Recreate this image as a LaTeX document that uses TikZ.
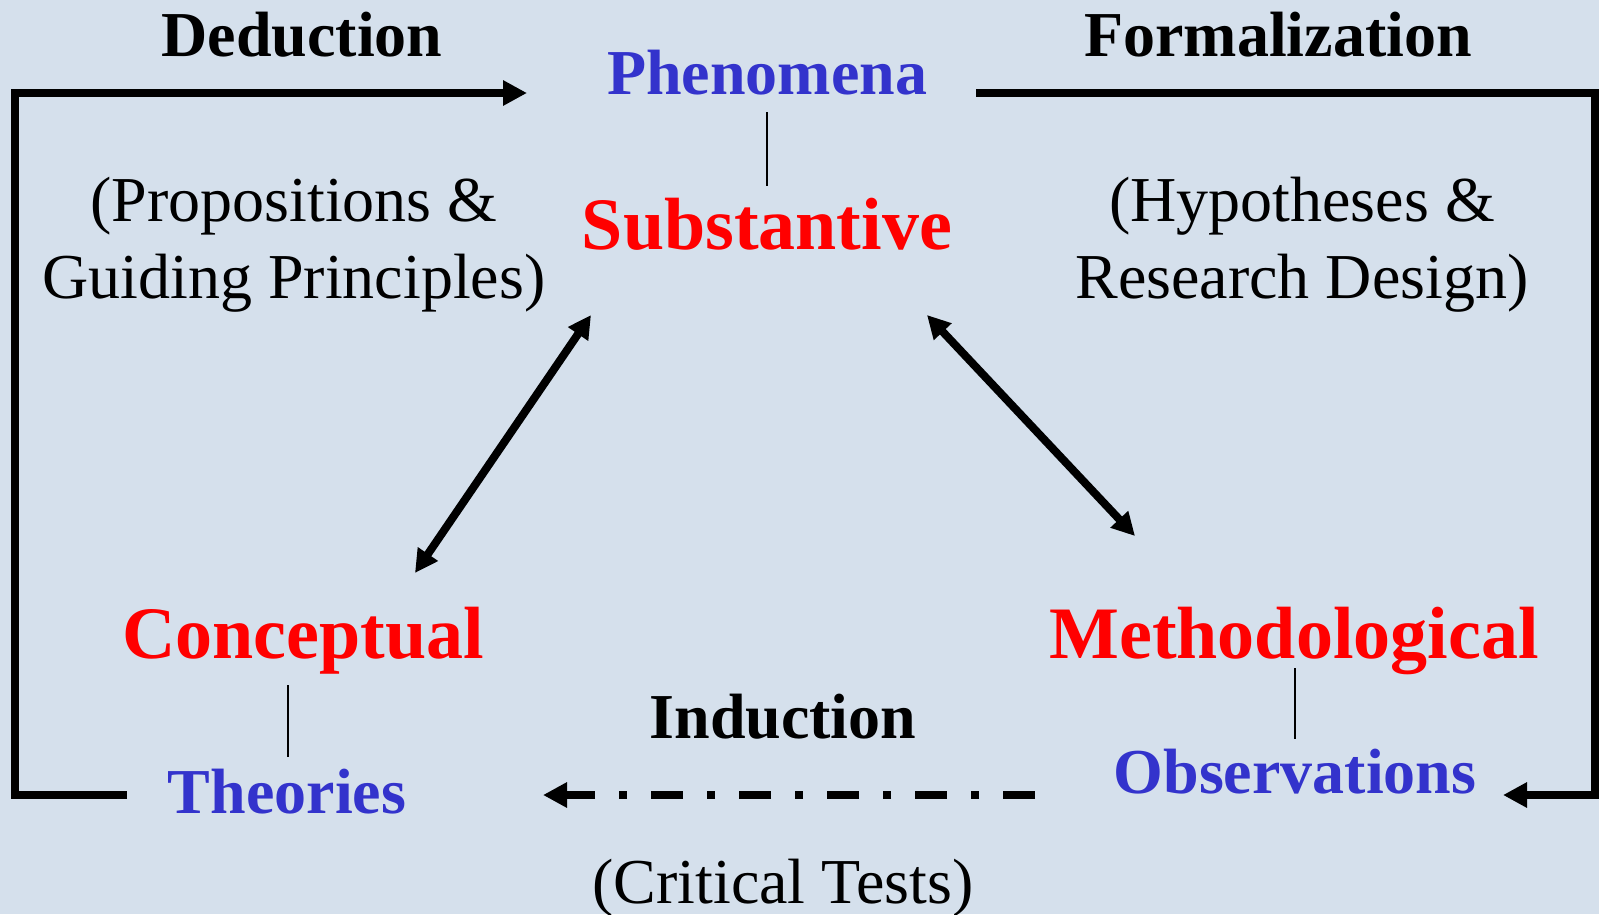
\documentclass[tikz,border=0pt]{standalone}
\usepackage{fontspec}
\setmainfont{Liberation Serif}
\usetikzlibrary{arrows.meta}
\definecolor{bg}{RGB}{213,224,236}
\definecolor{tblue}{RGB}{51,51,204}
\definecolor{tred}{RGB}{255,0,0}
\begin{document}
\begin{tikzpicture}[x=1pt,y=-1pt,
  big/.style={font=\fontsize{74}{80}\selectfont\bfseries,text=tred,inner sep=0pt,anchor=base},
  mid/.style={font=\fontsize{64}{70}\selectfont\bfseries,text=tblue,inner sep=0pt,anchor=base},
  lbl/.style={font=\fontsize{64}{70}\selectfont\bfseries,text=black,inner sep=0pt,anchor=base},
  note/.style={font=\fontsize{64}{70}\selectfont,text=black,inner sep=0pt,anchor=base},
  thick line/.style={line width=8pt},
  tip/.style={-{Triangle[length=24pt,width=24pt]}},
  dtip/.style={{Triangle[length=23pt,width=23pt]}-{Triangle[length=23pt,width=23pt]}},
  thin line/.style={line width=1.6pt}
]
\fill[bg] (0,0) rectangle (1599,914);
\useasboundingbox (0,0) rectangle (1599,914);

% labels
\node[lbl] (ded) at (302,56) {Deduction};
\node[lbl] (form) at (1278,56) {Formalization};
\node[lbl] (ind) at (783,738) {Induction};
\node[mid] (phen) at (767,94) {Phenomena};
\node[big] (subst) at (767,249) {Substantive};
\node[big] (conc) at (303,658) {Conceptual};
\node[big] (meth) at (1294,658) {Methodological};
\node[mid] (theo) at (287,813) {Theories};
\node[mid] (obs) at (1295,793) {Observations};
\node[note] (prop1) at (294,221) {(Propositions \&};
\node[note] (prop2) at (294,298) {Guiding Principles)};
\node[note] (hyp1) at (1302,221) {(Hypotheses \&};
\node[note] (hyp2) at (1302,298) {Research Design)};
\node[note] (crit) at (783,903) {(Critical Tests)};

% anchor coordinates for connectors
\coordinate (phenB) at (767,112);
\coordinate (substT) at (767,186);
\coordinate (concB) at (288,685);
\coordinate (theoT) at (288,757);
\coordinate (methB) at (1295,668);
\coordinate (obsT) at (1295,739);

\coordinate (theoL) at (127,795);
\coordinate (cornerLB) at (15,795);
\coordinate (cornerLT) at (15,93);
\coordinate (phenL) at (527,93);

\coordinate (phenR) at (976,93);
\coordinate (cornerRT) at (1595,93);
\coordinate (cornerRB) at (1595,795);
\coordinate (obsR) at (1503,795);

\coordinate (obsL) at (1035,795);
\coordinate (theoR) at (543,795);

\coordinate (concTR) at (415,573);
\coordinate (substBL) at (591,315);
\coordinate (substBR) at (927,315);
\coordinate (methTL) at (1135,536);

% thin links
\draw[thin line] (phenB) -- (substT);
\draw[thin line] (concB) -- (theoT);
\draw[thin line] (methB) -- (obsT);

% loops
\draw[thick line,tip] (theoL) -- (cornerLB) -- (cornerLT) -- (phenL);
\draw[thick line,tip] (phenR) -- (cornerRT) -- (cornerRB) -- (obsR);

% induction
\draw[thick line,tip,dash pattern=on 32pt off 24pt on 8pt off 24pt] (obsL) -- (theoR);

% double arrows
\draw[thick line,dtip] (concTR) -- (substBL);
\draw[thick line,dtip] (substBR) -- (methTL);
\end{tikzpicture}
\end{document}
